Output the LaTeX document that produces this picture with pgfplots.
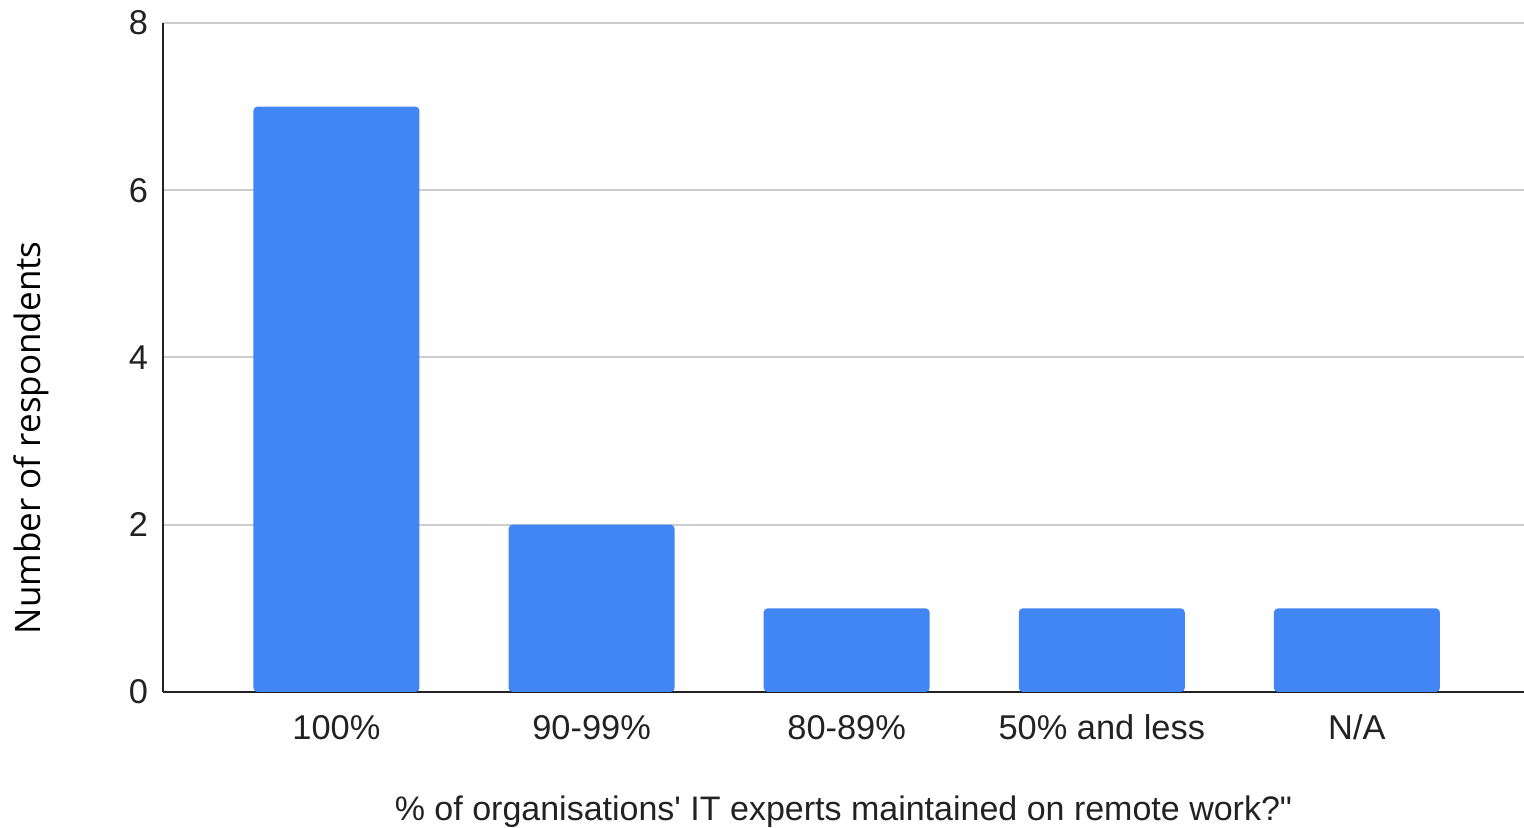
\documentclass[border=0pt]{standalone}
\usepackage{fontspec}
\setmainfont{Liberation Sans}[Ligatures=TeXOff]
\newfontfamily\opensans{Open Sans}
\usepackage{pgfplots}
\pgfplotsset{compat=1.18}
\usetikzlibrary{calc}
\definecolor{barblue}{HTML}{4285F4}
\definecolor{gridgray}{HTML}{CCCCCC}
\definecolor{axisdark}{HTML}{222222}
% grid behind the bars, axis lines in front of them
\pgfplotsset{
  layers/gridbehind/.define layer set={
    axis background,axis grid,main,axis ticks,axis lines,axis tick labels,axis descriptions,axis foreground
  }{},
}
\begin{document}
\begin{tikzpicture}
\begin{axis}[
    set layers=gridbehind,
    scale only axis,
    width=680.5pt, height=334.5pt,
    ymin=0, ymax=8, ytick={0,2,4,6,8},
    xmin=-0.68, xmax=4.655,
    xtick=data,
    xticklabels={100\%, 90-99\%, 80-89\%, 50\% and less, N/A},
    axis x line*=bottom, axis y line*=left,
    axis line style={axisdark, line width=1pt},
    x axis line style={-}, y axis line style={-},
    major tick length=0pt,
    ymajorgrids=true,
    grid style={gridgray, line width=1pt},
    tick label style={font=\fontsize{17.2}{19}\selectfont, text=axisdark},
    /pgf/number format/assume math mode=true,
    yticklabel style={xshift=-4pt},
    xticklabel style={yshift=-8pt},
    xlabel={\% of organisations' IT experts maintained on remote work?"},
    xlabel style={font=\fontsize{17}{19}\selectfont, text=axisdark, at={(axis description cs:0.5,0)}, anchor=center, yshift=-60pt},
    ylabel={Number of respondents},
    ylabel style={font=\opensans\fontsize{17.5}{19}\selectfont, text=black, at={(axis description cs:-0.097,0.38)}, anchor=center},
]
\addplot[ybar, bar width=83pt, fill=barblue, draw=none, rounded corners=2pt]
  coordinates {(0,7) (1,2) (2,1) (3,1) (4,1)};
\end{axis}
\pgfresetboundingbox
\path[use as bounding box] ($(current axis.south west)+(-81.5pt,-68pt)$) rectangle ($(current axis.north east)+(0,11.5pt)$);
\end{tikzpicture}
\end{document}
